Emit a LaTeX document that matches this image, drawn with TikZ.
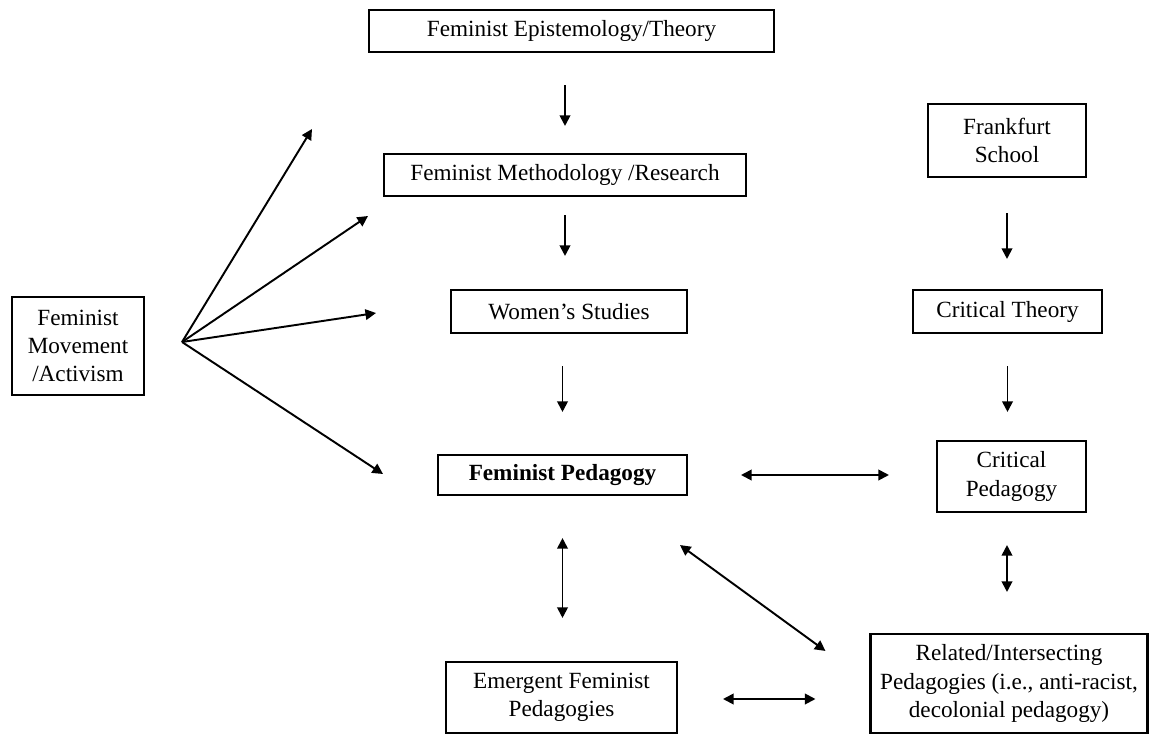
\documentclass[tikz,border=0pt]{standalone}
\usepackage{fontspec}
\setmainfont{Liberation Serif}
\usepackage{tikz}
\usetikzlibrary{positioning}
\usetikzlibrary{arrows.meta}

\begin{document}
\begin{tikzpicture}[x=0.02cm, y=-0.02cm,
	box/.style={draw, line width=1.2pt, inner sep=0pt, align=center,
		font=\fontsize{13.2}{16}\selectfont},
	arr/.style={-{Triangle[length=6pt,width=6pt]}, line width=1.1pt},
	both/.style={{Triangle[length=6pt,width=6pt]}-{Triangle[length=6pt,width=6pt]}, line width=1.1pt}
	]

	\useasboundingbox (0,0) rectangle (1150,734);

	% Left column: the movement, and where its arrows fan out from
	\node[box, minimum width=2.64cm, minimum height=1.96cm] (Movement) at (78,346) {Feminist\\Movement\\/Activism};
	\coordinate (Hub) at ([shift={(37,-4)}]Movement.east);

	% Middle column
	\node[box, minimum width=8.1cm,  minimum height=0.84cm] (Epist)   at (571.5,31)  {Feminist Epistemology/Theory};
	\node[box, minimum width=7.24cm, minimum height=0.84cm] (Method)  at (565,175)   {Feminist Methodology /Research};
	\node[box, minimum width=4.72cm, minimum height=0.86cm] (Women)   at (569,311.5) {Women’s Studies};
	\node[box, minimum width=4.98cm, minimum height=0.8cm]  (FemPed)  at (562.5,475) {\bfseries Feminist Pedagogy};
	\node[box, minimum width=4.62cm, minimum height=1.42cm] (Emergent) at (561.5,697.5) {Emergent Feminist\\Pedagogies};

	% Right column
	\node[box, minimum width=3.16cm, minimum height=1.46cm] (Frankfurt) at (1007,140.5)  {Frankfurt\\School};
	\node[box, minimum width=3.78cm, minimum height=0.86cm] (CritTheory) at (1007.5,311.5) {Critical Theory};
	\node[box, minimum width=2.98cm, minimum height=1.42cm] (CritPed)   at (1011.5,476.5) {Critical\\Pedagogy};
	\node[box, minimum width=5.54cm, minimum height=1.98cm] (Related)   at (1009,683.5)   {Related/Intersecting\\Pedagogies (i.e., anti-racist,\\decolonial pedagogy)};

	% Free ends of the fan
	\coordinate (F1) at (312,129);
	\coordinate (F2) at (368,216);
	\coordinate (F3) at (376,313);
	\coordinate (F4) at (383,474);

	\draw[arr] (Hub) -- (F1);
	\draw[arr] (Hub) -- (F2);
	\draw[arr] (Hub) -- (F3);
	\draw[arr] (Hub) -- (F4);

	% Downward chain, middle
	\draw[arr, shorten <=0.64cm, shorten >=0.54cm] (Epist.south -| Method.north) -- (Method.north);
	\draw[arr, shorten <=0.36cm, shorten >=0.66cm] (Method.south) -- (Method.south |- Women.north);
	\draw[arr, shorten <=0.64cm, shorten >=0.84cm] (Women.south -| FemPed.north) -- (FemPed.north);
	\draw[both, shorten <=0.84cm, shorten >=0.86cm] (FemPed.south) -- (FemPed.south |- Emergent.north);

	% Downward chain, right
	\draw[arr, shorten <=0.7cm,  shorten >=0.6cm]  (Frankfurt.south) -- (Frankfurt.south |- CritTheory.north);
	\draw[arr, shorten <=0.64cm, shorten >=0.56cm] (CritTheory.south) -- (CritTheory.south |- CritPed.north);
	\draw[both, shorten <=0.64cm, shorten >=0.82cm] (CritPed.south -| Frankfurt.south) -- (Related.north -| Frankfurt.south);

	% Links across
	\draw[both, shorten <=1.06cm, shorten >=0.94cm] (FemPed.east) -- (FemPed.east -| CritPed.west);
	\draw[both, shorten <=0.9cm,  shorten >=1.08cm] ([shift={(0,1.5)}]Emergent.east) -- ([shift={(0,1.5)}]Emergent.east -| Related.west);
	\draw[both] ([shift={(117.5,49)}]FemPed.south) -- ([shift={(-44,18)}]Related.north west);

\end{tikzpicture}
\end{document}
